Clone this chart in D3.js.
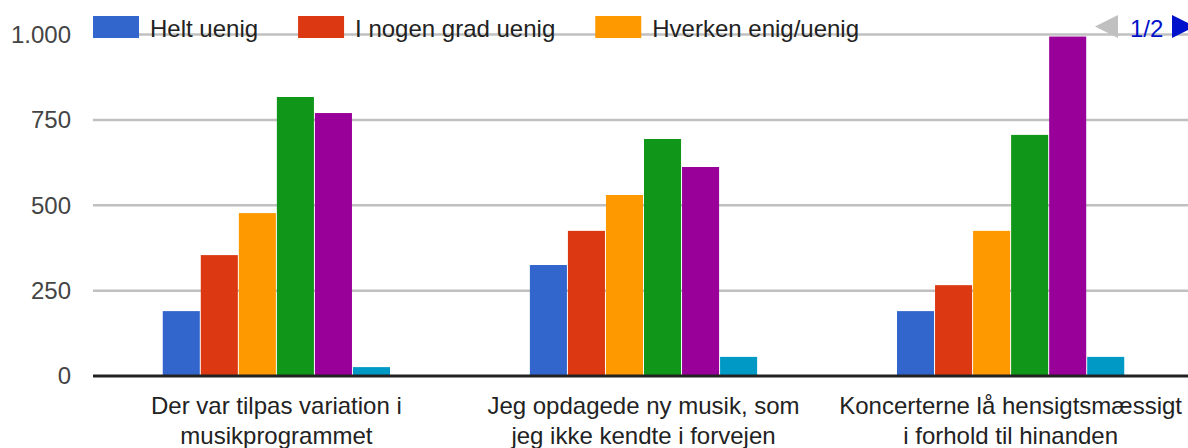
<!DOCTYPE html>
<html>
<head>
<meta charset="utf-8">
<script src="https://cdn.jsdelivr.net/npm/d3@7"></script>
<style>
    body { margin: 0; background: #fff; }
    svg { display: block; font-family: Arial, "Liberation Sans", sans-serif; }
</style>
</head>
<body>
<svg id="barchart" width="1188" height="448"></svg>
<script>
// categories (x axis labels, split in two lines)
var categories = [
    ["Der var tilpas variation i", "musikprogrammet"],
    ["Jeg opdagede ny musik, som", "jeg ikke kendte i forvejen"],
    ["Koncerterne lå hensigtsmæssigt", "i forhold til hinanden"]
];

// series names (legend only shows page 1 of 2)
var seriesNames = ["Helt uenig", "I nogen grad uenig", "Hverken enig/uenig", "I nogen grad enig", "Helt enig", "Ved ikke"];
var seriesColors = ["#3366cc", "#dc3912", "#ff9900", "#109618", "#990099", "#0099c6"];

// values per category, one per series
var values = [
    [190, 354, 477, 817, 770, 26],
    [325, 425, 530, 694, 612, 56],
    [190, 266, 425, 706, 994, 56]
];

var yTicks = [0, 250, 500, 750, 1000];
var legendItems = 3;
var pageLabel = "1/2";

barChart();

function barChart() {

    var svg = d3.select("#barchart"),
        left = 93, right = 1194,
        top = 34.5, bottom = 376;

    var x0 = d3.scaleBand()
        .domain(d3.range(categories.length))
        .range([left, right])
        .paddingInner(0.381)
        .paddingOuter(0.19);

    var x1 = d3.scaleBand()
        .domain(d3.range(seriesNames.length))
        .range([0, x0.bandwidth()])
        .paddingInner(0.026);

    var y = d3.scaleLinear()
        .domain([0, 1000])
        .range([bottom, top]);

    var fmt = function (d) { return d3.format(",")(d).replace(/,/g, "."); };

    // gridlines
    svg.append("g")
        .selectAll("line")
        .data(yTicks.filter(function (d) { return d > 0; }))
        .enter().append("line")
        .attr("x1", left)
        .attr("x2", right)
        .attr("y1", function (d) { return y(d); })
        .attr("y2", function (d) { return y(d); })
        .attr("stroke", "#c0c0c0")
        .attr("stroke-width", 2.5);

    // y axis labels
    svg.append("g")
        .selectAll("text")
        .data(yTicks)
        .enter().append("text")
        .attr("x", 71)
        .attr("y", function (d) { return y(d); })
        .attr("dy", "0.35em")
        .attr("text-anchor", "end")
        .attr("fill", "#444")
        .style("font-size", "24px")
        .text(fmt);

    // bars
    var groups = svg.append("g")
        .selectAll("g")
        .data(values)
        .enter().append("g")
        .attr("transform", function (d, i) { return "translate(" + x0(i) + ",0)"; });

    groups.selectAll("rect")
        .data(function (d) { return d; })
        .enter().append("rect")
        .attr("x", function (d, i) { return x1(i); })
        .attr("y", function (d) { return y(d); })
        .attr("width", x1.bandwidth())
        .attr("height", function (d) { return y(0) - y(d); })
        .attr("fill", function (d, i) { return seriesColors[i]; });

    // baseline
    svg.append("line")
        .attr("x1", left)
        .attr("x2", right)
        .attr("y1", y(0))
        .attr("y2", y(0))
        .attr("stroke", "#222")
        .attr("stroke-width", 3);

    // x axis labels
    var labels = svg.append("g")
        .selectAll("text")
        .data(categories)
        .enter().append("text")
        .attr("text-anchor", "middle")
        .attr("fill", "#222")
        .style("font-size", "24px")
        .attr("transform", function (d, i) { return "translate(" + (x0(i) + x0.bandwidth() / 2) + ",0)"; });

    labels.selectAll("tspan")
        .data(function (d) { return d; })
        .enter().append("tspan")
        .attr("x", 0)
        .attr("y", function (d, i) { return 414 + i * 30; })
        .text(function (d) { return d; });

    // legend, drawn over the top gridline
    var legend = svg.append("g");
    var lx = 93;
    seriesNames.slice(0, legendItems).forEach(function (name, i) {
        legend.append("rect")
            .attr("x", lx)
            .attr("y", 16)
            .attr("width", 46)
            .attr("height", 22)
            .attr("fill", seriesColors[i]);
        var t = legend.append("text")
            .attr("x", lx + 57)
            .attr("y", 36.5)
            .attr("fill", "#222")
            .style("font-size", "24px")
            .text(name);
        lx += 57 + t.node().getComputedTextLength() + 40;
    });

    // pager
    var pager = svg.append("g");
    pager.append("path")
        .attr("d", "M1095,26.5L1118,15L1118,38Z")
        .attr("fill", "#c0c0c0");
    pager.append("text")
        .attr("x", 1130)
        .attr("y", 36.5)
        .attr("fill", "#0011cc")
        .style("font-size", "24px")
        .text(pageLabel);
    pager.append("path")
        .attr("d", "M1172,15L1195,26.5L1172,38Z")
        .attr("fill", "#0011cc");
}
</script>
</body>
</html>
